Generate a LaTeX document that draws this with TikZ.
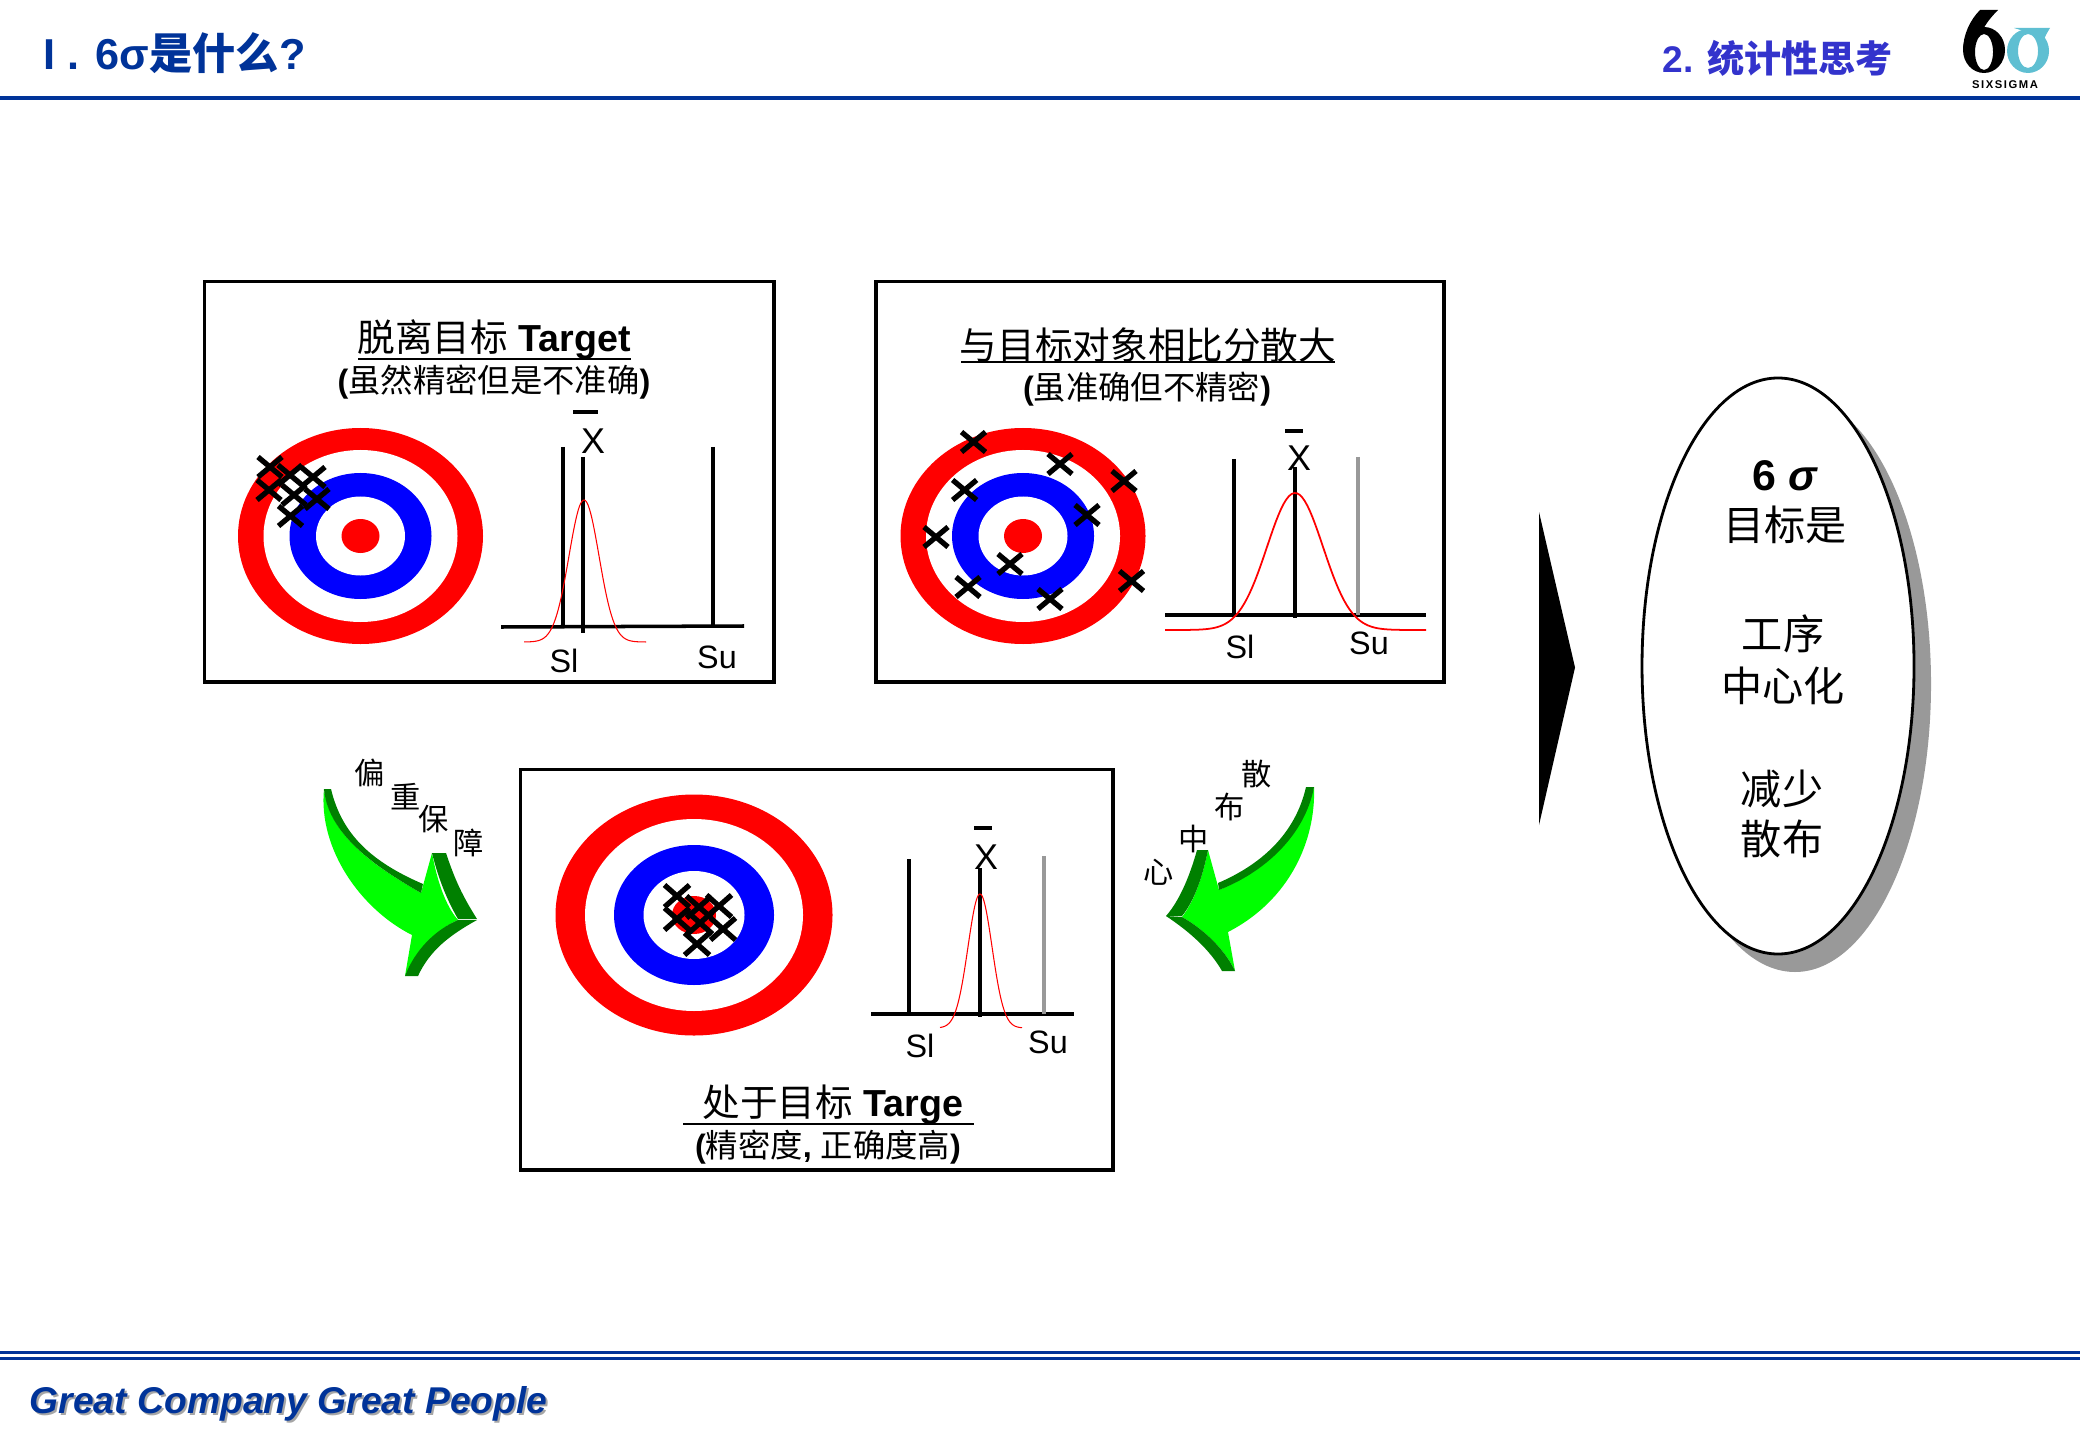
\documentclass[tikz,border=0pt]{standalone}
\usepackage{fontspec}
\setmainfont{Liberation Sans}
\newfontfamily\cjk{Noto Sans CJK SC}
\newfontfamily\logofont[LetterSpace=14]{Liberation Sans}
\definecolor{headblue}{HTML}{003399}
\definecolor{secblue}{HTML}{3333CC}
\definecolor{logoteal}{HTML}{5FBFD2}
\definecolor{arrowlight}{HTML}{00FF00}
\definecolor{arrowdark}{HTML}{008000}
\newcommand{\sz}[1]{\fontsize{#1}{#1}\selectfont}
\tikzset{
  panel/.style={draw=black,line width=.9pt,fill=white},
  specline/.style={line width=1pt,black},
  grayline/.style={line width=1pt,black!40},
  axisline/.style={line width=1pt,black},
  barline/.style={line width=1pt,black},
  titleline/.style={line width=.55pt,black},
  crossmark/.style={line width=1.5pt,black},
  lbl/.style={inner sep=0pt,font=\sz{9.2}},
  xlbl/.style={inner sep=0pt,font=\sz{10.2}},
  titletext/.style={inner sep=0pt,font=\sz{10.7}},
  subtext/.style={inner sep=0pt,font=\sz{9.2}},
  sidetext/.style={inner sep=0pt,font=\cjk\sz{8.6}},
  goaltext/.style={inner sep=0pt,align=center,font=\cjk\sz{11.7}},
}
\begin{document}
\begin{tikzpicture}[x=.01cm,y=-.01cm]
\useasboundingbox (0,0) rectangle (2080,1440);
% header
\draw[headblue,line width=1.15pt] (0,98)--(2080,98);
\node[inner sep=0pt,anchor=west,text=headblue,font=\bfseries\sz{12.3}] (headleft) at (43,53) {I . \hspace{1.1pt}6σ{\cjk 是什么}?};
\node[inner sep=0pt,anchor=west,text=secblue,font=\bfseries\sz{10.55}] (headright) at (1662,58) {2. {\cjk 统计性思考}};
% logo
\fill[logoteal,even odd rule] (2028,51) ellipse[x radius=21,y radius=22] (2028,51) ellipse[x radius=10,y radius=17];
\fill[logoteal] (2014,28)--(2050,28) .. controls (2047,33) and (2045,36) .. (2044,40)--(2030,33)--cycle;
\fill[black,even odd rule] (1984,50) ellipse[x radius=21,y radius=23] (1984,52) ellipse[x radius=9,y radius=18];
\fill[black] (1980,10)--(1998,10) .. controls (1988,20) and (1983,28) .. (1980,36)--(1963,50) .. controls (1963,35) and (1970,20) .. (1980,10)--cycle;
\node[inner sep=0pt,font=\logofont\bfseries\sz{3.2}] (logotext) at (2005,85) {SIXSIGMA};
% three panels
\draw[panel] (204.5,281.5) rectangle (774,682);
\draw[panel] (876,281.5) rectangle (1444,682);
\draw[panel] (520.5,769.5) rectangle (1113,1170);
% targets
\foreach \cx in {360.5,1023}
\foreach \rx/\ry/\col in {122.5/108/red,97/86/white,71/63/blue,44.5/39.5/white,19/17/red}
\fill[\col] (\cx,536) ellipse[x radius=\rx,y radius=\ry];
\foreach \rx/\ry/\col in {138.5/120.5/red,109/96/white,80/70/blue,50.5/44/white,22/19/red}
\fill[\col] (694,915) ellipse[x radius=\rx,y radius=\ry];
% crosses
\foreach \x/\y in {270/467,269/490,290/475,313/477,294/495,317/499,290.5/516}
\draw[crossmark] (\x-12,\y-10)--(\x+12,\y+10) (\x-12,\y+10)--(\x+12,\y-10);
\foreach \x/\y in {973.5/442,1060/464,1124/481,964.6/490,1087/515,936/537,1010/564,968/587,1050/599,1131.5/581}
\draw[crossmark] (\x-12,\y-10)--(\x+12,\y+10) (\x-12,\y+10)--(\x+12,\y-10);
\foreach \x/\y in {677/896,677/919,699/907,719/906,700/923,723/929,697/944}
\draw[crossmark] (\x-12.5,\y-11)--(\x+12.5,\y+11) (\x-12.5,\y+11)--(\x+12.5,\y-11);
% chart one
\draw[axisline] (501,627)--(744,626);
\draw[specline] (563,447)--(563,627);
\draw[specline] (583,457)--(583,633);
\draw[specline] (713,447)--(713,627);
\draw[red,line width=.3pt,domain=524:646,samples=100] plot ({\x},{642-142*exp(-((\x-584)/15)*((\x-584)/15)/2)});
\draw[barline] (573,412)--(598,412);
\node[xlbl] (meanA) at (593,441) {X};
\node[lbl] (slA) at (564,661) {Sl};
\node[lbl] (suA) at (717,657) {Su};
% chart two
\draw[axisline] (1165,615)--(1426,615);
\draw[specline] (1234,459)--(1234,615);
\draw[specline] (1295,467)--(1295,618);
\draw[grayline] (1358,457)--(1358,615);
\draw[red,line width=.5pt,domain=1165:1426,samples=100] plot ({\x},{630-137*exp(-((\x-1295)/28)*((\x-1295)/28)/2)});
\draw[barline] (1285,431)--(1303,431);
\node[xlbl] (meanB) at (1299,458) {X};
\node[lbl] (slB) at (1240,647) {Sl};
\node[lbl] (suB) at (1369,643) {Su};
% chart three
\draw[axisline] (871,1014)--(1074,1014);
\draw[specline] (909,859)--(909,1014);
\draw[specline] (980,868)--(980,1017);
\draw[grayline] (1044,856)--(1044,1014);
\draw[red,line width=.3pt,domain=940:1022,samples=100] plot ({\x},{1028-134*exp(-((\x-980)/12)*((\x-980)/12)/2)});
\draw[barline] (974,828)--(992,828);
\node[xlbl] (meanC) at (986,857) {X};
\node[lbl] (slC) at (920,1046) {Sl};
\node[lbl] (suC) at (1048,1042) {Su};
% titles
\node[titletext] (titleA) at (494,340) {{\cjk 脱离目标} \textbf{Target}};
\draw[titleline] (358,359)--(631,359);
\node[subtext] (subA) at (494,382) {\textbf{(}{\cjk 虽然精密但是不准确}\textbf{)}};
\node[titletext] (titleB) at (1148,345) {\cjk 与目标对象相比分散大};
\draw[titleline] (961,362)--(1335,362);
\node[subtext] (subB) at (1147,389) {\textbf{(}{\cjk 虽准确但不精密}\textbf{)}};
\node[titletext] (titleC) at (833,1105) {{\cjk 处于目标} \textbf{Targe}};
\draw[titleline] (683,1124)--(974,1124);
\node[subtext] (subC) at (828,1147) {\textbf{(}{\cjk 精密度}\textbf{, }{\cjk 正确度高}\textbf{)}};
% left green arrow
\fill[arrowlight] (324,789) .. controls (318,850) and (362,910) .. (412,935)--(405,976) .. controls (420,945) and (440,928) .. (458,920) .. controls (445,905) and (437,880) .. (432,853)--(421,893) .. controls (385,872) and (330,840) .. (324,789)--cycle;
\fill[arrowdark] (324,789)--(331,789) .. controls (342,835) and (372,862) .. (423,884)--(421,893) .. controls (385,872) and (328,838) .. (324,789)--cycle;
\fill[arrowdark] (432,853)--(446,853) .. controls (455,880) and (462,895) .. (477,919)--(458,919) .. controls (450,905) and (440,885) .. (432,853)--cycle;
\fill[arrowdark] (458,920)--(477,920) .. controls (450,935) and (430,950) .. (418,976)--(405,976) .. controls (415,950) and (435,930) .. (458,920)--cycle;
% right green arrow
\fill[arrowlight] (1314,787) .. controls (1316,840) and (1290,900) .. (1228,932)--(1235,971) .. controls (1225,950) and (1205,930) .. (1182,917) .. controls (1195,900) and (1203,875) .. (1208,850)--(1219,890) .. controls (1265,870) and (1300,840) .. (1314,787)--cycle;
\fill[arrowdark] (1306,787)--(1314,787) .. controls (1305,835) and (1265,872) .. (1219,890)--(1218,883) .. controls (1260,865) and (1295,835) .. (1306,787)--cycle;
\fill[arrowdark] (1197,850)--(1208,850) .. controls (1203,875) and (1195,900) .. (1182,916)--(1166,916) .. controls (1180,900) and (1190,875) .. (1197,850)--cycle;
\fill[arrowdark] (1166,916)--(1182,917) .. controls (1205,930) and (1225,950) .. (1235,971)--(1222,971) .. controls (1210,950) and (1190,932) .. (1166,916)--cycle;
% side labels
\node[sidetext] (sideA) at (370,773) {偏};
\node[sidetext] (sideB) at (406,797) {重};
\node[sidetext] (sideC) at (434,819) {保};
\node[sidetext] (sideD) at (469,843) {障};
\node[sidetext] (sideE) at (1257,774) {散};
\node[sidetext] (sideF) at (1230,807) {布};
\node[sidetext] (sideG) at (1194,839) {中};
\node[sidetext] (sideH) at (1159,872) {心};
% big triangle and goal ellipse
\fill[black] (1539,512)--(1575,667.5)--(1539,825)--cycle;
\fill[black!40] (1795,684) ellipse[x radius=136,y radius=288];
\draw[fill=white,line width=.8pt] (1778,666) ellipse[x radius=136,y radius=288];
\node[inner sep=0pt,font=\bfseries\sz{12.2}] (goalA) at (1785,476) {6 \textit{σ}};
\node[goaltext] (goalB) at (1785,525) {目标是};
\node[goaltext] (goalC) at (1783,634) {工序};
\node[goaltext] (goalD) at (1783,686) {中心化};
\node[goaltext] (goalE) at (1782,789) {减少};
\node[goaltext] (goalF) at (1782,839) {散布};
% footer
\draw[headblue,line width=.7pt] (0,1352.5)--(2080,1352.5);
\draw[headblue,line width=.7pt] (0,1358.5)--(2080,1358.5);
\node[inner sep=0pt,anchor=west,text=black!35,font=\bfseries\itshape\sz{10.6}] (footshadow) at (31,1406) {Great Company Great People};
\node[inner sep=0pt,anchor=west,text=headblue,font=\bfseries\itshape\sz{10.6}] (foot) at (29,1404) {Great Company Great People};
\end{tikzpicture}
\end{document}
